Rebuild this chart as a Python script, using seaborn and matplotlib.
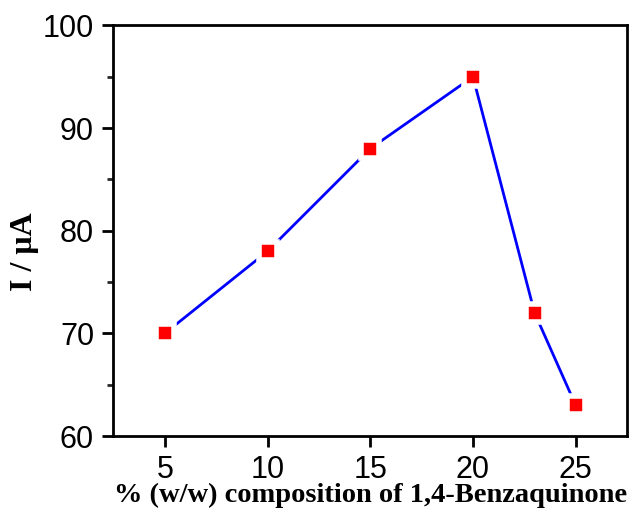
import matplotlib
matplotlib.use("Agg")
import matplotlib.pyplot as plt
import seaborn as sns
import pandas as pd
from matplotlib.ticker import MultipleLocator

composition = [5, 10, 15, 20, 23, 25]
current = [70, 78, 88, 95, 72, 63]
x_ticks = [5, 10, 15, 20, 25]
y_ticks = [60, 70, 80, 90, 100]

sns.set_style("ticks")
plt.rcParams['font.family'] = ['Liberation Sans', 'DejaVu Sans']

df = pd.DataFrame({"x": composition, "y": current})

fig = plt.figure(figsize=(6.34, 5.09), dpi=100)
ax = fig.add_axes([0.179, 0.1434, 0.81, 0.8066])

sns.lineplot(data=df, x="x", y="y", ax=ax, color="#0000ff", linewidth=2.0,
             marker="s", markersize=12.5, markerfacecolor="#ff0000",
             markeredgecolor="white", markeredgewidth=4.0, zorder=3)

ax.set_xlim(2.5, 27.5)
ax.set_ylim(60, 100)
ax.set_xticks(x_ticks)
ax.set_yticks(y_ticks)
ax.yaxis.set_minor_locator(MultipleLocator(5))

for s in ax.spines.values():
    s.set_visible(True)
    s.set_linewidth(2.0)
    s.set_color("black")

ax.tick_params(axis="both", which="major", direction="out", length=8, width=2,
               labelsize=22, colors="black", labelcolor="black", pad=6)
ax.tick_params(axis="y", which="minor", direction="out", length=4.5, width=2)
ax.tick_params(top=False, right=False)

ax.set_xlabel("% (w/w) composition of 1,4-Benzaquinone",
              fontfamily="Liberation Serif", fontweight="bold", fontsize=20.5,
              color="black")
ax.xaxis.set_label_coords(0.5, -0.114)
ax.set_ylabel("I / μA", fontfamily="Liberation Serif", fontweight="bold",
              fontsize=23, color="black")
ax.yaxis.set_label_coords(-0.174, 0.45)
ax.yaxis.label.set_va("center")

fig.savefig("out.png", dpi=100)
